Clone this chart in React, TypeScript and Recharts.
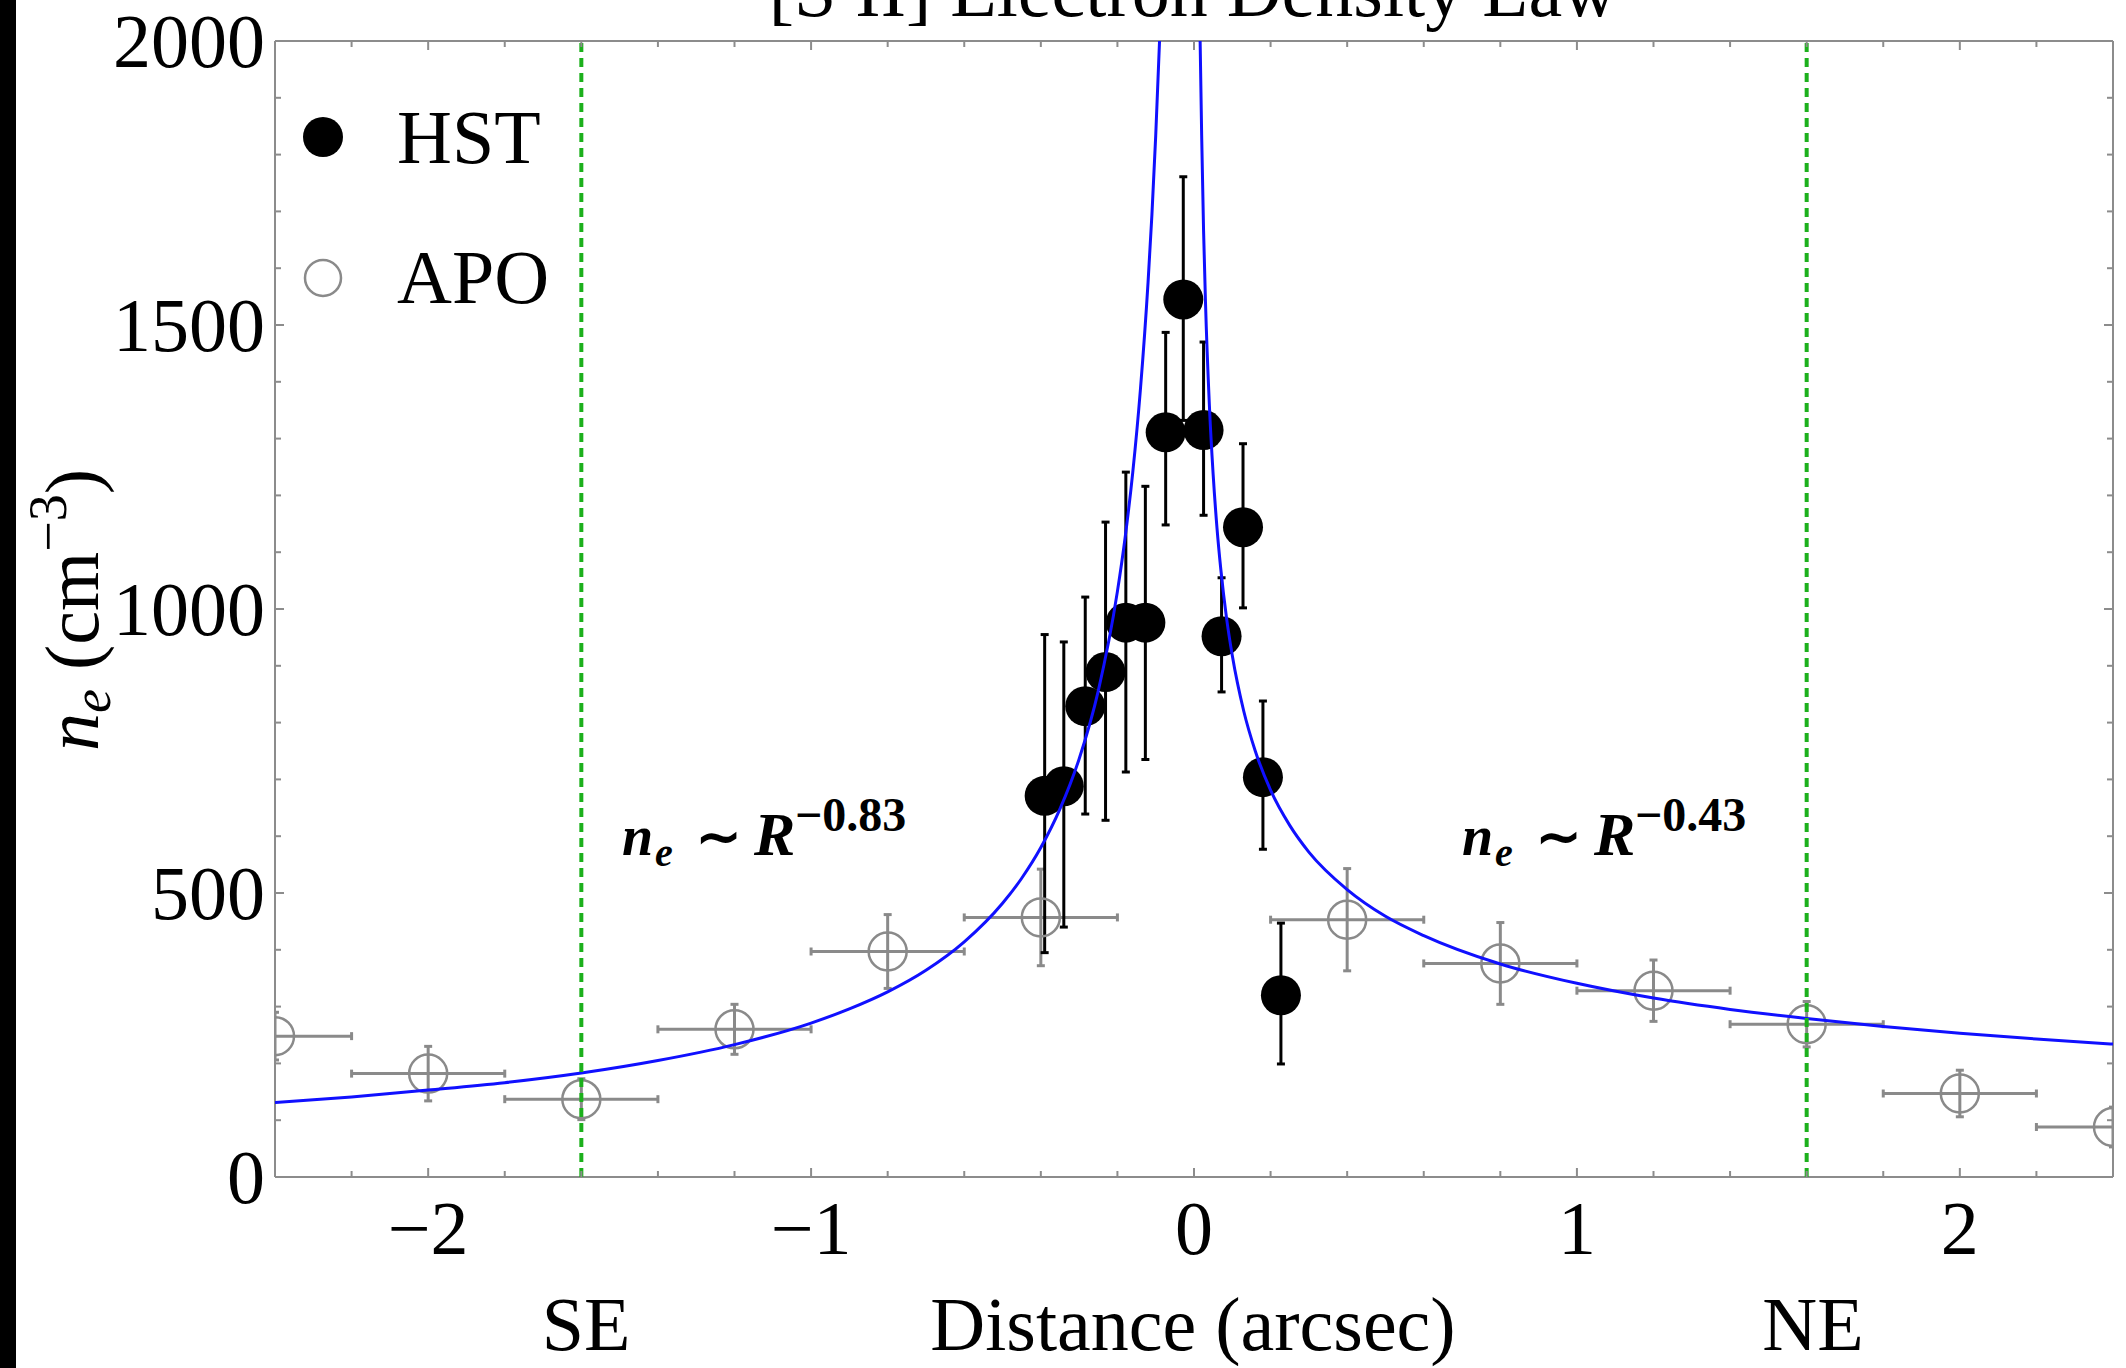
import React from "react";
import {
  ComposedChart,
  Scatter,
  Line,
  XAxis,
  YAxis,
  ErrorBar,
  ReferenceLine,
} from "recharts";

// HST points (filled), asymmetric vertical errors
const HST_X = [-0.39, -0.34, -0.284, -0.231, -0.178, -0.127, -0.074, -0.028, 0.025, 0.072, 0.128, 0.18, 0.227];
const HST_NE = [671, 688, 829, 889, 976, 976, 1311, 1545, 1315, 952, 1144, 704, 320];
const HST_ERR_LO = [276, 248, 190, 261, 263, 241, 163, 213, 150, 98, 142, 127, 121];
const HST_ERR_HI = [284, 254, 192, 264, 265, 240, 176, 216, 155, 103, 147, 134, 127];

// APO points (open), bins of 0.4 arcsec
const APO_X = [-2.4, -2.0, -1.6, -1.2, -0.8, -0.4, 0.4, 0.8, 1.2, 1.6, 2.0, 2.4];
const APO_NE = [248, 182, 137, 260, 397, 457, 453, 376, 328, 269, 147, 88];
const APO_YERR = [42, 48, 36, 44, 65, 85, 90, 72, 54, 40, 41, 35];
const APO_XERR = [0.2, 0.2, 0.2, 0.2, 0.2, 0.2, 0.2, 0.2, 0.2, 0.2, 0.2, 0.2];

// blue power-law curve (SE side, NE side)
const FIT_SE_X = [-2.4, -2.2, -2.0, -1.8, -1.6, -1.4, -1.2, -1.0, -0.9, -0.8, -0.7, -0.6, -0.5, -0.45, -0.4, -0.35, -0.3, -0.25, -0.2, -0.18, -0.16, -0.14, -0.12, -0.11, -0.1, -0.09];
const FIT_SE_NE = [131, 141, 153, 166, 183, 205, 233, 271, 296, 326, 364, 414, 482, 526, 580, 648, 736, 856, 1031, 1125, 1240, 1386, 1575, 1693, 1833, 2000];
const FIT_NE_X = [0.016, 0.02, 0.025, 0.03, 0.04, 0.05, 0.06, 0.07, 0.085, 0.1, 0.13, 0.16, 0.2, 0.25, 0.3, 0.4, 0.5, 0.6, 0.8, 1.0, 1.2, 1.4, 1.6, 1.8, 2.0, 2.2, 2.4];
const FIT_NE_NE = [2000, 1834, 1666, 1540, 1361, 1237, 1143, 1070, 984, 918, 820, 750, 681, 619, 572, 506, 459, 425, 375, 341, 315, 295, 279, 265, 253, 243, 234];

// green boundaries
const BOUNDARY_X = [-1.6, 1.6];

const X_TICKS = [-2.4, -2.2, -2, -1.8, -1.6, -1.4, -1.2, -1, -0.8, -0.6, -0.4, -0.2, 0, 0.2, 0.4, 0.6, 0.8, 1, 1.2, 1.4, 1.6, 1.8, 2, 2.2, 2.4];
const X_LABEL_AT = [-2, -1, 0, 1, 2];
const X_LABELS = ["\u22122", "\u22121", "0", "1", "2"];
const Y_TICKS = [0, 100, 200, 300, 400, 500, 600, 700, 800, 900, 1000, 1100, 1200, 1300, 1400, 1500, 1600, 1700, 1800, 1900, 2000];
const Y_LABEL_AT = [0, 500, 1000, 1500, 2000];
const Y_LABELS = ["0", "500", "1000", "1500", "2000"];

const hstData = HST_X.map((x, i) => ({ x, y: HST_NE[i], err: [HST_ERR_LO[i], HST_ERR_HI[i]] }));
const apoData = APO_X.map((x, i) => ({ x, y: APO_NE[i], xerr: APO_XERR[i], yerr: APO_YERR[i] }));
const fitSE = FIT_SE_X.map((x, i) => ({ x, y: FIT_SE_NE[i] }));
const fitNE = FIT_NE_X.map((x, i) => ({ x, y: FIT_NE_NE[i] }));

const W = 2126;
const H = 1368;
const FRAME = "#8c8c8c";
const APO_GRAY = "#8a8a8a";
const SERIF = '"Liberation Serif", "Times New Roman", Times, serif';
const CLIP = "url(#plot-clip)";

const near = (a: number, b: number) => Math.abs(a - b) < 1e-6;

const BottomTick = (props: any) => {
  const { x, y, payload } = props;
  const i = X_LABEL_AT.findIndex((v) => near(v, payload.value));
  return (
    <g>
      <line x1={x} x2={x} y1={y} y2={y - (i >= 0 ? 9 : 6)} stroke={FRAME} strokeWidth={2} />
      {i >= 0 && (
        <text x={x} y={y + 77} textAnchor="middle" fontFamily={SERIF} fontSize={76} fill="#000">
          {X_LABELS[i]}
        </text>
      )}
    </g>
  );
};

const TopTick = (props: any) => {
  const { x, y, payload } = props;
  const major = X_LABEL_AT.some((v) => near(v, payload.value));
  return <line x1={x} x2={x} y1={y} y2={y + (major ? 9 : 6)} stroke={FRAME} strokeWidth={2} />;
};

const LeftTick = (props: any) => {
  const { x, y, payload } = props;
  const i = Y_LABEL_AT.findIndex((v) => near(v, payload.value));
  return (
    <g>
      <line x1={x} x2={x + (i >= 0 ? 9 : 6)} y1={y} y2={y} stroke={FRAME} strokeWidth={2} />
      {i >= 0 && (
        <text x={x - 10} y={y + 26} textAnchor="end" fontFamily={SERIF} fontSize={76} fill="#000">
          {Y_LABELS[i]}
        </text>
      )}
    </g>
  );
};

const RightTick = (props: any) => {
  const { x, y, payload } = props;
  const major = Y_LABEL_AT.some((v) => near(v, payload.value));
  return <line x1={x} x2={x - (major ? 9 : 6)} y1={y} y2={y} stroke={FRAME} strokeWidth={2} />;
};

const HstDot = (props: any) => <circle cx={props.cx} cy={props.cy} r={20} fill="#000" clipPath={CLIP} />;
const ApoDot = (props: any) => (
  <circle cx={props.cx} cy={props.cy} r={19} fill="none" stroke={APO_GRAY} strokeWidth={2.5} clipPath={CLIP} />
);

const PowerLaw = ({ x0, exp }: { x0: number; exp: string }) => (
  <text y={855} fontFamily={SERIF} fontWeight="bold" fill="#000">
    <tspan x={x0} fontSize={56} fontStyle="italic">n</tspan>
    <tspan x={x0 + 33} dy={11} fontSize={40} fontStyle="italic">e</tspan>
    <tspan x={x0 + 74} dy={-11} fontSize={54}>{"\u223C"}</tspan>
    <tspan x={x0 + 132} fontSize={62} fontStyle="italic">R</tspan>
    <tspan x={x0 + 173} dy={-24} fontSize={48}>{"\u2212" + exp}</tspan>
  </text>
);

export default function App() {
  return (
    <div style={{ position: "absolute", left: 0, top: 0, width: W, height: H, background: "#fff", overflow: "hidden" }}>
      <svg width={0} height={0} style={{ position: "absolute" }}>
        <defs>
          <clipPath id="plot-clip" clipPathUnits="userSpaceOnUse">
            <rect x={275} y={41} width={1838} height={1136} />
          </clipPath>
        </defs>
      </svg>
      <ComposedChart width={W} height={H} margin={{ top: 40, right: 12, bottom: 41, left: 75 }}>
        <XAxis
          dataKey="x"
          type="number"
          domain={[-2.4, 2.4]}
          allowDataOverflow
          ticks={X_TICKS}
          interval={0}
          height={150}
          tickSize={0}
          tickMargin={0}
          tickLine={false}
          axisLine={{ stroke: FRAME, strokeWidth: 2 }}
          tick={(p: any) => <BottomTick {...p} />}
        />
        <XAxis
          xAxisId="top"
          orientation="top"
          dataKey="x"
          type="number"
          domain={[-2.4, 2.4]}
          allowDataOverflow
          ticks={X_TICKS}
          interval={0}
          height={1}
          tickSize={0}
          tickMargin={0}
          tickLine={false}
          axisLine={{ stroke: FRAME, strokeWidth: 2 }}
          tick={(p: any) => <TopTick {...p} />}
        />
        <YAxis
          dataKey="y"
          type="number"
          domain={[0, 2000]}
          allowDataOverflow
          ticks={Y_TICKS}
          interval={0}
          width={200}
          tickSize={0}
          tickMargin={0}
          tickLine={false}
          axisLine={{ stroke: FRAME, strokeWidth: 2 }}
          tick={(p: any) => <LeftTick {...p} />}
        />
        <YAxis
          yAxisId="right"
          orientation="right"
          dataKey="y"
          type="number"
          domain={[0, 2000]}
          allowDataOverflow
          ticks={Y_TICKS}
          interval={0}
          width={1}
          tickSize={0}
          tickMargin={0}
          tickLine={false}
          axisLine={{ stroke: FRAME, strokeWidth: 2 }}
          tick={(p: any) => <RightTick {...p} />}
        />

        <Scatter name="APO" data={apoData} shape={ApoDot} isAnimationActive={false}>
          <ErrorBar dataKey="xerr" direction="x" stroke={APO_GRAY} strokeWidth={3} width={4} clipPath={CLIP} />
          <ErrorBar dataKey="yerr" direction="y" stroke={APO_GRAY} strokeWidth={3} width={4} clipPath={CLIP} />
        </Scatter>
        <Scatter name="HST" data={hstData} shape={HstDot} isAnimationActive={false}>
          <ErrorBar dataKey="err" direction="y" stroke="#000" strokeWidth={3} width={4} />
        </Scatter>

        <Line
          data={fitSE}
          dataKey="y"
          type="monotone"
          stroke="#1010ff"
          strokeWidth={3}
          dot={false}
          activeDot={false}
          isAnimationActive={false}
          zIndex={700}
        />
        <Line
          data={fitNE}
          dataKey="y"
          type="monotone"
          stroke="#1010ff"
          strokeWidth={3}
          dot={false}
          activeDot={false}
          isAnimationActive={false}
          zIndex={700}
        />

        {BOUNDARY_X.map((bx) => (
          <ReferenceLine
            key={bx}
            x={bx}
            stroke="#1cb01c"
            strokeWidth={4}
            strokeDasharray="9 6"
            zIndex={800}
          />
        ))}
      </ComposedChart>

      <svg
        width={W}
        height={H}
        style={{ position: "absolute", left: 0, top: 0, pointerEvents: "none" }}
      >
        <rect x={0} y={0} width={16} height={H} fill="#000" />

        <text x={1193} y={16} textAnchor="middle" fontFamily={SERIF} fontSize={76} fill="#000">
          [S II] Electron Density Law
        </text>

        <circle cx={323} cy={137} r={20} fill="#000" />
        <text x={397} y={163} fontFamily={SERIF} fontSize={76} fill="#000">HST</text>
        <circle cx={323} cy={278} r={18} fill="none" stroke={APO_GRAY} strokeWidth={2.5} />
        <text x={397} y={303} fontFamily={SERIF} fontSize={76} fill="#000">APO</text>

        <PowerLaw x0={622} exp="0.83" />
        <PowerLaw x0={1462} exp="0.43" />

        <text x={586} y={1350} textAnchor="middle" fontFamily={SERIF} fontSize={76} fill="#000">SE</text>
        <text x={1193} y={1350} textAnchor="middle" fontFamily={SERIF} fontSize={76} fill="#000">
          Distance (arcsec)
        </text>
        <text x={1813} y={1350} textAnchor="middle" fontFamily={SERIF} fontSize={76} fill="#000">NE</text>

        <text
          transform="translate(98,610) rotate(-90)"
          textAnchor="middle"
          fontFamily={SERIF}
          fontSize={76}
          fill="#000"
        >
          <tspan fontStyle="italic">n</tspan>
          <tspan fontStyle="italic" fontSize={54} dy={12}>e</tspan>
          <tspan dy={-12}> (cm</tspan>
          <tspan fontSize={54} dy={-32}>{"\u22123"}</tspan>
          <tspan dy={32}>)</tspan>
        </text>
      </svg>
    </div>
  );
}
